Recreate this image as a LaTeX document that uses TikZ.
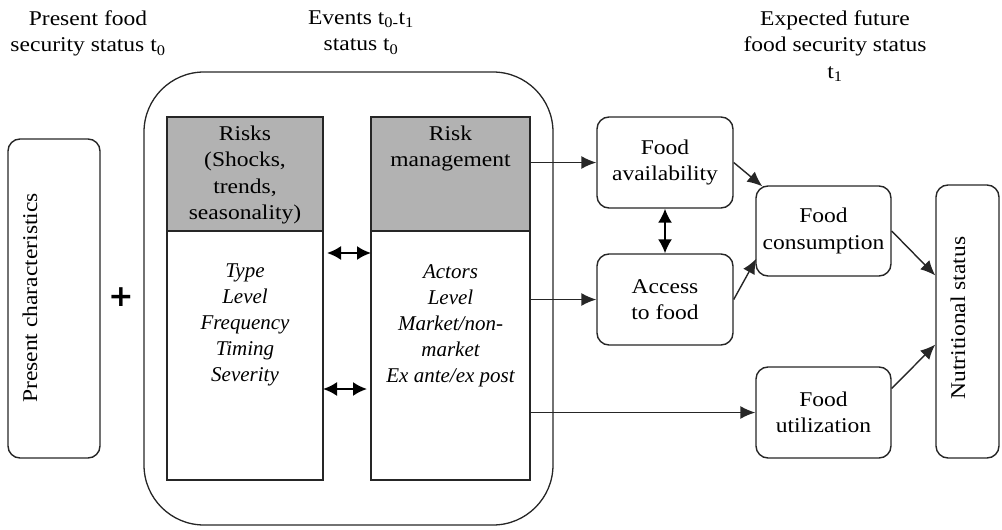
\documentclass[tikz,border=0pt]{standalone}
\usepackage{fontspec}
\setmainfont{Liberation Serif}[UprightFeatures={FakeStretch=1.12}]
\newfontfamily\plusfont{DejaVu Sans}
\usetikzlibrary{arrows.meta}
\definecolor{hdr}{RGB}{178,178,178}
\definecolor{edge}{RGB}{38,38,38}
\newcommand{\rsz}{\fontsize{21}{26.5}\selectfont}
\newcommand{\isz}{\fontsize{21}{26}\selectfont\itshape}
\begin{document}
\begin{tikzpicture}[x=1pt,y=-1pt,
  rbox/.style={draw=edge, line width=1.4pt, rounded corners=12pt, fill=white, align=center, font=\rsz, inner sep=0pt},
  sqbox/.style={draw=edge, line width=1.4pt, inner sep=0pt},
  txt/.style={align=center, inner sep=0pt, font=\rsz},
  itxt/.style={align=center, inner sep=0pt, font=\isz},
  arr/.style={-{Latex[length=15pt,width=13pt]}, line width=1.4pt, draw=edge},
  darr/.style={{Latex[length=14pt,width=14pt]}-{Latex[length=14pt,width=14pt]}, line width=2pt, draw=black}]
\useasboundingbox (0,0) rectangle (1002,530);

% titles
\node[txt, anchor=north] (t0) at (88,10.5) {Present food\\security status t\textsubscript{0}};
\node[txt, anchor=north] (tev) at (361,10.5) {Events t\textsubscript{0-}t\textsubscript{1}\\status t\textsubscript{0}};
\node[txt, anchor=north] (t1) at (835,10.5) {Expected future\\food security status\\t\textsubscript{1}};

% present characteristics
\node[draw=edge, line width=1.4pt, rounded corners=12pt, minimum width=92pt, minimum height=319pt, inner sep=0pt] (pc) at (54,298.5) {};
\node[txt, rotate=90] (pctext) at (30,298) {Present characteristics};
\node[inner sep=0pt, font=\fontsize{30}{30}\selectfont\plusfont\bfseries] (plus) at (121,297) {+};

% events container
\node[draw=edge, line width=1.3pt, rounded corners=60pt, minimum width=409pt, minimum height=453pt, inner sep=0pt] (events) at (348.5,298.5) {};

% risks
\node[sqbox, fill=hdr, minimum width=156pt, minimum height=114pt] (rh) at (245,174) {};
\node[sqbox, fill=white, minimum width=156pt, minimum height=249pt] (rb) at (245,355.5) {};
\node[txt, anchor=north] (rhtext) at (245,125.5) {Risks\\(Shocks,\\trends,\\seasonality)};
\node[itxt, anchor=north] (rbtext) at (245,264) {Type\\Level\\Frequency\\Timing\\Severity};

% risk management
\node[sqbox, fill=hdr, minimum width=159pt, minimum height=114pt] (mh) at (450.5,174) {};
\node[sqbox, fill=white, minimum width=159pt, minimum height=249pt] (mb) at (450.5,355.5) {};
\node[txt, anchor=north] (mhtext) at (450.5,125.5) {Risk\\management};
\node[itxt, anchor=north] (mbtext) at (450.5,264) {Actors\\Level\\Market/non-\\market\\Ex ante/ex post};

% right side boxes
\node[rbox, minimum width=136pt, minimum height=91pt] (avail) at (665,162.5) {Food\\availability};
\node[rbox, minimum width=136pt, minimum height=91pt] (access) at (665,299.5) {Access\\to food};
\node[rbox, minimum width=135pt, minimum height=90pt] (cons) at (823.5,231) {Food\\consumption};
\node[rbox, minimum width=135pt, minimum height=91pt] (util) at (823.5,412.5) {Food\\utilization};
\node[draw=edge, line width=1.4pt, rounded corners=12pt, minimum width=63pt, minimum height=273pt, inner sep=0pt] (nut) at (967.5,321.5) {};
\node[txt, rotate=90] (nuttext) at (958,318) {Nutritional status};

% connectors
\coordinate (a1) at (327,253);
\coordinate (a2) at (371,253);
\coordinate (b1) at (323,389);
\coordinate (b2) at (367,389);
\draw[darr] (a1) -- (a2);
\draw[darr] (b1) -- (b2);

\draw[arr] (mh.east |- avail.west) -- (avail.west);
\draw[arr] (mb.east |- access.west) -- (access.west);
\draw[arr] (mb.east |- util.west) -- (util.west);

\draw[darr, line width=1.8pt] (avail.south) -- (access.north);
\draw[arr] (avail.east) -- ([xshift=7pt,yshift=-1pt]cons.north west);
\draw[arr] (access.east) -- ([xshift=1pt,yshift=18pt]cons.south west);
\draw[arr] (cons.east) -- ([yshift=46pt]nut.west);
\draw[arr] ([yshift=24pt]util.east) -- ([yshift=-23pt]nut.west);
\end{tikzpicture}
\end{document}
